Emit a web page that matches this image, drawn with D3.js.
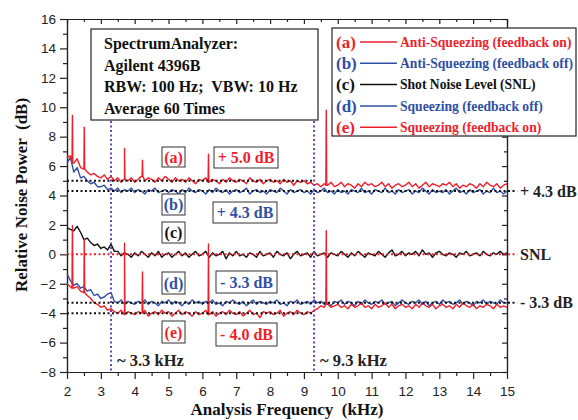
<!DOCTYPE html>
<html><head><meta charset="utf-8">
<script src="https://cdn.jsdelivr.net/npm/d3@7"></script>
<style>
body{margin:0;background:#fff;}
svg{display:block;}
.serif{font-family:"Liberation Serif","Times New Roman",serif;font-weight:bold;white-space:pre;}
.axis text{font-family:"Liberation Sans",Arial,sans-serif;font-size:13.5px;fill:#222;}
.axis path,.axis line{stroke:#222;stroke-width:1.2;}
</style></head>
<body>
<svg id="c" width="578" height="420"></svg>
<script>
// ---- data ----
const freqStart = 2.0, freqStep = 0.1;
const xTicks = [2,3,4,5,6,7,8,9,10,11,12,13,14,15];
const yTicks = [-8,-6,-4,-2,0,2,4,6,8,10,12,14,16];

const seriesA = [ // Anti-Squeezing (feedback on)
 6.6,6.7,6.2,6.5,5.9,5.8,5.6,5.4,5.5,5.3,
 5.2,5.4,5.1,5.3,5.0,5.2,4.9,5.1,5.0,5.2,
 4.9,5.1,5.3,5.0,5.2,5.1,4.9,5.2,5.0,5.3,
 5.1,4.9,5.2,5.0,5.1,4.9,5.2,5.0,4.8,5.1,
 5.0,5.2,4.9,5.1,5.0,4.8,5.1,4.9,5.2,5.0,
 4.9,5.1,5.0,4.8,5.2,5.0,4.9,5.1,4.8,5.0,
 5.1,4.9,5.0,4.8,5.1,4.9,5.0,4.7,5.0,4.9,
 5.0,4.8,4.9,4.7,4.8,4.6,4.8,4.7,4.9,4.6,
 4.7,4.9,4.6,4.8,4.7,4.5,4.8,4.6,4.9,4.7,
 4.8,4.6,4.7,4.9,4.6,4.8,4.5,4.7,4.8,4.6,
 4.7,4.9,4.6,4.8,4.5,4.7,4.9,4.6,4.8,4.7,
 4.6,4.8,4.7,4.9,4.6,4.8,4.5,4.7,4.6,4.8,
 4.7,4.5,4.8,4.6,4.9,4.7,4.6,4.8,4.5,4.7,
 4.8];
const seriesB = [ // Anti-Squeezing (feedback off)
 6.2,6.6,5.6,5.9,5.2,5.3,5.0,4.8,4.9,4.6,
 4.6,4.7,4.4,4.5,4.3,4.5,4.2,4.4,4.3,4.5,
 4.2,4.4,4.3,4.1,4.4,4.3,4.5,4.2,4.3,4.4,
 4.2,4.4,4.3,4.1,4.4,4.2,4.5,4.3,4.2,4.4,
 4.3,4.1,4.4,4.2,4.5,4.3,4.2,4.4,4.1,4.3,
 4.4,4.2,4.3,4.5,4.1,4.3,4.4,4.2,4.3,4.1,
 4.4,4.3,4.2,4.5,4.3,4.1,4.4,4.2,4.3,4.4,
 4.2,4.3,4.1,4.4,4.2,4.3,4.5,4.2,4.3,4.1,
 4.4,4.2,4.3,4.1,4.4,4.3,4.2,4.5,4.2,4.3,
 4.1,4.4,4.3,4.2,4.5,4.2,4.3,4.1,4.4,4.2,
 4.3,4.4,4.1,4.3,4.2,4.5,4.3,4.1,4.4,4.2,
 4.3,4.2,4.4,4.1,4.3,4.5,4.2,4.3,4.1,4.4,
 4.2,4.3,4.4,4.1,4.3,4.2,4.5,4.2,4.3,4.1,
 4.3];
const seriesC = [ // Shot Noise Level
 1.8,1.7,1.6,1.9,1.5,1.0,1.1,0.8,0.6,0.7,
 0.4,0.5,0.3,0.7,0.2,0.2,-0.1,0.1,0.0,-0.2,
 0.1,-0.1,0.2,0.0,-0.2,0.1,-0.1,0.2,-0.2,0.0,
 0.1,-0.2,0.0,0.2,-0.1,0.1,-0.2,0.0,0.2,-0.1,
 0.0,0.2,-0.2,0.1,-0.1,0.0,0.2,-0.3,0.1,-0.1,
 0.2,-0.1,0.0,-0.2,0.1,0.0,-0.2,0.2,-0.1,0.0,
 0.1,-0.2,0.2,0.0,-0.1,0.1,-0.3,0.0,0.2,-0.1,
 0.0,0.1,-0.2,0.2,-0.1,0.0,0.1,-0.2,0.1,0.0,
 -0.1,0.2,0.0,-0.2,0.1,-0.1,0.2,0.0,-0.2,0.1,
 0.0,-0.1,0.2,0.0,-0.2,0.1,0.3,-0.1,0.0,0.2,
 -0.1,0.1,0.0,0.2,-0.1,0.3,0.0,0.1,-0.2,0.1,
 0.2,0.0,-0.1,0.1,0.0,-0.2,0.1,0.0,0.2,-0.1,
 0.0,0.1,-0.1,0.2,0.0,-0.1,0.1,0.0,0.2,0.0,
 0.1];
const seriesD = [ // Squeezing (feedback off)
 -1.3,-1.8,-2.1,-2.0,-2.3,-2.2,-2.5,-2.4,-2.8,-2.7,
 -3.0,-2.9,-2.7,-2.6,-3.2,-3.3,-3.1,-3.4,-3.2,-3.3,
 -3.4,-3.2,-3.3,-3.1,-3.4,-3.2,-3.3,-3.5,-3.2,-3.3,
 -3.1,-3.4,-3.2,-3.3,-3.5,-3.2,-3.4,-3.1,-3.3,-3.2,
 -3.4,-3.2,-3.3,-3.1,-3.4,-3.3,-3.5,-3.2,-3.3,-3.1,
 -3.3,-3.4,-3.2,-3.5,-3.3,-3.1,-3.4,-3.2,-3.3,-3.4,
 -3.2,-3.3,-3.1,-3.4,-3.3,-3.5,-3.2,-3.3,-3.1,-3.4,
 -3.3,-3.2,-3.4,-3.1,-3.3,-3.2,-3.4,-3.3,-3.5,-3.2,
 -3.3,-3.1,-3.4,-3.2,-3.3,-3.5,-3.2,-3.4,-3.1,-3.3,
 -3.4,-3.2,-3.3,-3.1,-3.4,-3.3,-3.2,-3.5,-3.3,-3.1,
 -3.3,-3.4,-3.2,-3.3,-3.1,-3.4,-3.2,-3.5,-3.3,-3.2,
 -3.4,-3.1,-3.3,-3.2,-3.4,-3.3,-3.1,-3.4,-3.2,-3.3,
 -3.5,-3.2,-3.3,-3.1,-3.4,-3.2,-3.3,-3.4,-3.1,-3.3,
 -3.3];
const seriesE = [ // Squeezing (feedback on)
 -2.0,-2.2,-2.3,-2.2,-2.5,-2.6,-2.8,-3.0,-3.3,-3.4,
 -3.6,-3.5,-3.8,-3.7,-3.9,-4.0,-3.8,-4.1,-3.9,-4.0,
 -4.1,-3.9,-4.0,-3.8,-4.2,-4.0,-3.9,-4.1,-3.8,-4.0,
 -3.9,-4.2,-4.0,-3.8,-4.1,-3.9,-4.0,-4.2,-3.9,-4.1,
 -4.0,-3.8,-4.1,-3.9,-4.2,-4.0,-3.9,-4.1,-3.8,-4.0,
 -4.1,-3.9,-4.2,-4.0,-3.8,-4.1,-4.0,-4.3,-3.9,-4.0,
 -3.9,-4.1,-4.0,-3.8,-4.2,-4.0,-3.9,-4.1,-3.8,-4.0,
 -4.1,-3.9,-4.0,-3.8,-3.7,-3.5,-3.6,-3.4,-3.6,-3.5,
 -3.4,-3.6,-3.5,-3.7,-3.4,-3.6,-3.5,-3.3,-3.6,-3.5,
 -3.7,-3.4,-3.6,-3.5,-3.3,-3.6,-3.4,-3.7,-3.5,-3.4,
 -3.6,-3.5,-3.7,-3.4,-3.6,-3.3,-3.5,-3.6,-3.4,-3.7,
 -3.5,-3.4,-3.6,-3.5,-3.7,-3.4,-3.6,-3.3,-3.5,-3.6,
 -3.4,-3.7,-3.5,-3.6,-3.4,-3.5,-3.7,-3.4,-3.6,-3.5,
 -3.6];
// narrow spurious peaks on the feedback-on traces
const spikeFreqs = [2.16, 2.51, 3.70, 4.23, 6.18, 9.66];
const spikeA = [9.45, 8.65, 7.2, 6.4, 6.8, 9.8];
const spikeE = [1.95, 1.0, 0.75, -1.2, 0.7, 1.6];

const refLevels = [5.0, 4.3, 0.0, -3.3, -4.0];
const cutoffFreqs = [3.3, 9.3];
const cutoffLabels = ["~ 3.3 kHz", "~ 9.3 kHz"];
const rightLabels = ["+ 4.3 dB", "SNL", "- 3.3 dB"];
const tagLabels = ["(a)", "(b)", "(c)", "(d)", "(e)"];
const levelLabels = ["+ 5.0 dB", "+ 4.3 dB", "- 3.3 dB", "- 4.0 dB"];
const legendTexts = ["Anti-Squeezing (feedback on)", "Anti-Squeezing (feedback off)",
  "Shot Noise Level (SNL)", "Squeezing (feedback off)", "Squeezing (feedback on)"];
const infoLines = ["SpectrumAnalyzer:", "Agilent 4396B", "RBW: 100 Hz;  VBW: 10 Hz", "Average 60 Times"];

// ---- styles ----
const RED = "#ee1f2b", BLUE = "#2f4fa4", BLACK = "#111", PURPLE = "#7440b0";
const svg = d3.select("#c");
const x = d3.scaleLinear().domain([2, 15]).range([67, 507]);
const y = d3.scaleLinear().domain([-8, 16]).range([372, 19]);
const freqs = seriesA.map((_, i) => +(freqStart + i * freqStep).toFixed(2));

function build(base, sf, sv) {
  const pts = freqs.map((f, i) => ({f, v: base[i]}));
  if (sf) sf.forEach((f, k) => {
    const b = base[Math.round((f - freqStart) / freqStep)];
    pts.push({f: f - 0.012, v: b}, {f, v: sv[k]}, {f: f + 0.012, v: b});
  });
  return pts.sort((a, b) => a.f - b.f);
}
const line = d3.line().x(d => x(d.f)).y(d => y(d.v));

// axes
const minorX = d3.range(2, 15.01, 0.5).filter(v => Math.abs(v % 1) > 0.1);
const minorY = d3.range(-7, 16, 2);
svg.append("g").attr("class","axis").attr("transform","translate(0,372)")
  .call(d3.axisBottom(x).tickValues(xTicks).tickSize(7).tickSizeOuter(0).tickPadding(7).tickFormat(d3.format("d")));
svg.append("g").attr("class","axis").attr("transform","translate(0,372)")
  .call(d3.axisBottom(x).tickValues(minorX).tickSize(4).tickSizeOuter(0).tickFormat(""));
svg.append("g").attr("class","axis").attr("transform","translate(67,0)")
  .call(d3.axisLeft(y).tickValues(yTicks).tickSize(7).tickSizeOuter(0).tickPadding(4).tickFormat(d3.format("d")));
svg.append("g").attr("class","axis").attr("transform","translate(67,0)")
  .call(d3.axisLeft(y).tickValues(minorY).tickSize(4).tickSizeOuter(0).tickFormat(""));
svg.append("g").attr("class","axis").attr("transform","translate(0,19)")
  .call(d3.axisTop(x).tickValues(xTicks).tickSize(-5).tickSizeOuter(0).tickFormat(""));
svg.append("g").attr("class","axis").attr("transform","translate(0,19)")
  .call(d3.axisTop(x).tickValues(minorX).tickSize(-3).tickSizeOuter(0).tickFormat(""));
svg.append("g").attr("class","axis").attr("transform","translate(507,0)")
  .call(d3.axisRight(y).tickValues(yTicks).tickSize(-5).tickSizeOuter(0).tickFormat(""));
svg.append("g").attr("class","axis").attr("transform","translate(507,0)")
  .call(d3.axisRight(y).tickValues(minorY).tickSize(-3).tickSizeOuter(0).tickFormat(""));

// traces
const traces = [
  {d: build(seriesB), c: BLUE},
  {d: build(seriesA, spikeFreqs, spikeA), c: RED},
  {d: build(seriesC), c: BLACK},
  {d: build(seriesD), c: BLUE},
  {d: build(seriesE, spikeFreqs, spikeE), c: RED},
];
traces.forEach(t => svg.append("path").attr("d", line(t.d)).attr("fill","none")
  .attr("stroke", t.c).attr("stroke-width", 1.4).attr("stroke-linejoin","round"));

// reference levels (dotted)
const refEnds = [9.3, 15.3, 15.3, 15.3, 9.3];
const refColors = [BLACK, BLACK, RED, BLACK, BLACK];
refLevels.forEach((v, i) => svg.append("line")
  .attr("x1", x(2)).attr("x2", x(refEnds[i])).attr("y1", y(v)).attr("y2", y(v))
  .attr("stroke", refColors[i]).attr("stroke-width", 2).attr("stroke-dasharray", "2,2.5"));

// cutoff verticals
cutoffFreqs.forEach((f, i) => {
  svg.append("line").attr("x1", x(f)).attr("x2", x(f)).attr("y1", 121).attr("y2", y(-8))
    .attr("stroke", PURPLE).attr("stroke-width", 2).attr("stroke-dasharray", "2,2.5");
  svg.append("text").attr("class","serif").attr("x", x(f) + 6).attr("y", 366)
    .attr("font-size", 16.5).attr("fill", "#222").text(cutoffLabels[i]);
});

// right-hand labels
[4.3, 0, -3.3].forEach((v, i) => svg.append("text").attr("class","serif")
  .attr("x", 520).attr("y", y(v)).attr("dy", "0.35em").attr("font-size", 16)
  .attr("fill", "#222").text(rightLabels[i]));

// boxed labels
const tagColors = [RED, BLUE, BLACK, BLUE, RED];
const tagBoxes = [[162,147,185,167],[162,194,185,215],[162,222,185,243],[162,272,185,294],[162,321,185,343]];
const levelColors = [RED, BLUE, BLUE, RED];
const levelBoxes = [[214,147,278,168],[213,202,277,223],[216,271,277,293],[216,323,277,346]];
function boxed(b, txt, col) {
  svg.append("rect").attr("x", b[0]).attr("y", b[1]).attr("width", b[2]-b[0]).attr("height", b[3]-b[1])
    .attr("fill","#fff").attr("stroke","#333").attr("stroke-width",1);
  svg.append("text").attr("class","serif").attr("x", (b[0]+b[2])/2).attr("y", (b[1]+b[3])/2)
    .attr("dy","0.35em").attr("text-anchor","middle").attr("font-size",16).attr("fill",col).text(txt);
}
tagLabels.forEach((t, i) => boxed(tagBoxes[i], t, tagColors[i]));
levelLabels.forEach((t, i) => boxed(levelBoxes[i], t, levelColors[i]));

// info box
svg.append("rect").attr("x",91).attr("y",29).attr("width",227).attr("height",91)
  .attr("fill","#fff").attr("stroke","#222").attr("stroke-width",1.2);
infoLines.forEach((t, i) => svg.append("text").attr("class","serif")
  .attr("x",104).attr("y",49 + i*21.5).attr("font-size",16).attr("fill","#111").text(t));

// legend
svg.append("rect").attr("x",332).attr("y",28).attr("width",244).attr("height",108)
  .attr("fill","#fff").attr("stroke","#222").attr("stroke-width",1.2);
tagLabels.forEach((t, i) => {
  const yy = 42 + i*21.3;
  svg.append("text").attr("class","serif").attr("x",336).attr("y",yy).attr("dy","0.33em")
    .attr("font-size",17).attr("fill",tagColors[i]).text(t);
  svg.append("line").attr("x1",360).attr("x2",397).attr("y1",yy).attr("y2",yy)
    .attr("stroke",tagColors[i]).attr("stroke-width",1.5);
  svg.append("text").attr("class","serif").attr("x",400).attr("y",yy).attr("dy","0.35em")
    .attr("font-size",13.6).attr("fill",tagColors[i]).text(legendTexts[i]);
});

// axis titles
svg.append("text").attr("class","serif").attr("transform","translate(27,195) rotate(-90)")
  .attr("text-anchor","middle").attr("font-size",17).attr("fill","#111").text("Relative Noise Power  (dB)");
svg.append("text").attr("class","serif").attr("x",287).attr("y",415)
  .attr("text-anchor","middle").attr("font-size",17).attr("fill","#111").text("Analysis Frequency  (kHz)");
</script>
</body></html>
